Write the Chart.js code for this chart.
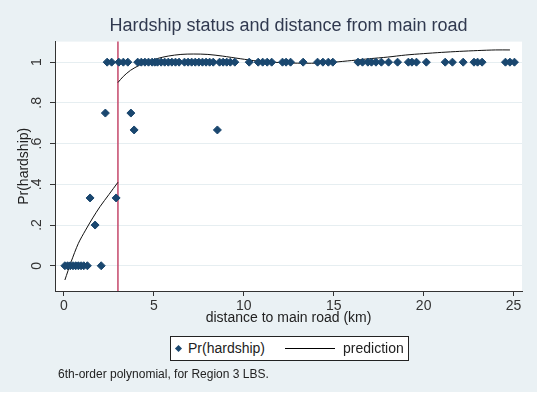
<!DOCTYPE html>
<html>
<head>
<meta charset="utf-8">
<script src="https://cdn.jsdelivr.net/npm/chart.js@4"></script>
<style>
  body { margin: 0; background: #fff; font-family: Arial, "Liberation Sans", sans-serif; }
  #wrap { position: relative; width: 540px; height: 395px; }
  #legend { position: absolute; left: 170px; top: 336px; width: 239px; height: 25px; box-sizing: border-box;
            border: 1px solid #222; background: #fff; font-size: 14px; color: #222; }
  #legend .dia { position: absolute; left: 5px; top: 8.5px; width: 5px; height: 5px; background: #1a476f; transform: rotate(45deg); }
  #legend .txt { position: absolute; top: 0; line-height: 23px; white-space: nowrap; }
  #legend .ln { position: absolute; left: 114px; top: 11px; width: 50px; border-top: 1px solid #000; }
  #note { position: absolute; left: 58px; top: 367px; font-size: 12px; line-height: 14px; color: #222; white-space: nowrap; }
</style>
</head>
<body>
<div id="wrap">
  <canvas id="Hardship" width="540" height="395"></canvas>
  <div id="legend">
    <span class="dia"></span><span class="txt" style="left:17px">Pr(hardship)</span>
    <span class="ln"></span><span class="txt" style="left:172px">prediction</span>
  </div>
  <div id="note">6th-order polynomial, for Region 3 LBS.</div>
</div>
<script>
// observed points (distance in km, share in hardship)
const distanceKm = [0.05, 0.2, 0.35, 0.5, 0.65, 0.8, 0.95, 1.1, 1.3, 2.07,
    1.45, 2.9, 1.73, 2.3, 3.72, 3.9, 8.53,
    2.4, 2.65, 3.05, 3.3, 3.55,
    4.1, 4.3, 4.5, 4.7, 4.9, 5.05, 5.2, 5.4, 5.6, 5.8, 6.0, 6.2, 6.4,
    6.7, 6.9, 7.1, 7.3, 7.5, 7.7, 7.9, 8.1, 8.3,
    8.65, 8.85, 9.05, 9.25, 9.5,
    10.3, 10.8, 11.05, 11.3, 11.55,
    12.15, 12.35, 12.6, 13.3,
    14.1, 14.4, 14.7, 14.95,
    16.35, 16.6, 16.9, 17.1, 17.35, 17.65,
    18.05, 18.55, 19.15, 19.35, 19.6, 20.15,
    21.2, 21.6, 22.2, 22.8, 23.0, 23.25,
    24.55, 24.8, 25.05];
const prHardship = [0, 0, 0, 0, 0, 0, 0, 0, 0, 0,
    0.333, 0.333, 0.2, 0.75, 0.75, 0.667, 0.667,
    1, 1, 1, 1, 1,
    1, 1, 1, 1, 1, 1, 1, 1, 1, 1, 1, 1, 1,
    1, 1, 1, 1, 1, 1, 1, 1, 1,
    1, 1, 1, 1, 1,
    1, 1, 1, 1, 1,
    1, 1, 1, 1,
    1, 1, 1, 1,
    1, 1, 1, 1, 1, 1,
    1, 1, 1, 1, 1, 1,
    1, 1, 1, 1, 1, 1,
    1, 1, 1];

// fitted curve, below and above the cutoff
const predLeftX = [0.05, 0.4, 0.8, 1.2, 1.6, 2.0, 2.5, 3.0];
const predLeftY = [-0.07, 0.02, 0.11, 0.175, 0.235, 0.29, 0.35, 0.41];
const predRightX = [3.0, 3.3, 3.7, 4.2, 4.6, 5.2, 5.8, 6.5, 7.2, 8.0, 8.8, 9.8, 10.8, 12, 13, 14, 15, 16, 17, 18, 19, 20, 21, 22, 23, 24, 24.8];
const predRightY = [0.90, 0.93, 0.96, 0.985, 1.0, 1.018, 1.03, 1.038, 1.04, 1.038, 1.03, 1.017, 1.005, 0.998, 0.995, 0.995, 1.0, 1.008, 1.017, 1.025, 1.035, 1.042, 1.048, 1.053, 1.057, 1.06, 1.06];

const cutoffKm = 3;
const xTicks = [0, 5, 10, 15, 20, 25];
const yTicks = [0, 0.2, 0.4, 0.6, 0.8, 1];

function pairs(xs, ys) {
    return xs.map((x, i) => ({ x: x, y: ys[i] }));
}

function yLabel(v) {
    let r = Math.round(v * 10) / 10;
    if (r === 0 || r === 1) return String(r);
    return String(r).replace(/^0/, '');
}

const AXIS_FONT = { family: 'Arial, "Liberation Sans", sans-serif', size: 14 };

// background, white plot region, red cutoff line and rotated y labels
const stataLook = {
    id: 'stataLook',
    beforeDraw(chart) {
        let ctx = chart.ctx, a = chart.chartArea;
        ctx.save();
        ctx.fillStyle = '#eaf1f4';
        ctx.fillRect(0, 0, 537, 392);
        ctx.fillStyle = '#fff';
        ctx.fillRect(a.left, a.top, a.right - a.left, a.bottom - a.top);
        ctx.restore();
    },
    beforeDatasetsDraw(chart) {
        let ctx = chart.ctx, a = chart.chartArea;
        let px = chart.scales.x.getPixelForValue(cutoffKm);
        ctx.save();
        ctx.strokeStyle = '#c4476a';
        ctx.lineWidth = 1.5;
        ctx.beginPath();
        ctx.moveTo(px, a.top);
        ctx.lineTo(px, a.bottom);
        ctx.stroke();
        ctx.restore();
    },
    afterDraw(chart) {
        let ctx = chart.ctx, ys = chart.scales.y;
        ctx.save();
        ctx.fillStyle = '#333';
        ctx.font = '14px Arial, "Liberation Sans", sans-serif';
        ctx.textAlign = 'center';
        ctx.textBaseline = 'middle';
        yTicks.forEach(v => {
            ctx.save();
            ctx.translate(37, ys.getPixelForValue(v));
            ctx.rotate(-Math.PI / 2);
            ctx.fillText(yLabel(v), 0, 0);
            ctx.restore();
        });
        ctx.restore();
    }
};

let ctx = document.getElementById('Hardship').getContext('2d');
let Hardship = new Chart(ctx, {
    type: 'scatter',
    data: {
        datasets: [{
            label: 'Pr(hardship)',
            data: pairs(distanceKm, prHardship),
            pointStyle: 'rectRot',
            pointRadius: 4,
            backgroundColor: '#1a476f',
            borderColor: '#1a476f',
            borderWidth: 1
        }, {
            label: 'prediction',
            data: pairs(predLeftX, predLeftY),
            showLine: true,
            pointRadius: 0,
            borderColor: '#111',
            borderWidth: 1,
            tension: 0.3
        }, {
            label: 'prediction',
            data: pairs(predRightX, predRightY),
            showLine: true,
            pointRadius: 0,
            borderColor: '#111',
            borderWidth: 1,
            tension: 0.3
        }]
    },
    options: {
        responsive: false,
        animation: false,
        layout: { padding: { left: 0, right: 18, top: 0, bottom: 68 } },
        plugins: {
            legend: { display: false },
            tooltip: { enabled: false },
            title: {
                display: true,
                fullSize: false,
                text: 'Hardship status and distance from main road',
                color: '#30394f',
                font: { family: AXIS_FONT.family, size: 18, weight: 'normal' },
                padding: { top: 15, bottom: 5 }
            }
        },
        scales: {
            x: {
                type: 'linear',
                min: -0.5,
                max: 25.47,
                afterFit(scale) { scale.height = 36; },
                afterBuildTicks(scale) { scale.ticks = xTicks.map(v => ({ value: v })); },
                ticks: {
                    includeBounds: false,
                    color: '#333',
                    font: AXIS_FONT,
                    padding: 2,
                    maxRotation: 0,
                    callback: v => String(v)
                },
                grid: { drawOnChartArea: false, tickLength: 5, tickColor: '#333' },
                border: { color: '#333', width: 1 },
                title: {
                    display: true,
                    text: 'distance to main road (km)',
                    color: '#222',
                    font: AXIS_FONT,
                    padding: { top: 0, bottom: 0 }
                }
            },
            y: {
                type: 'linear',
                min: -0.124,
                max: 1.101,
                afterFit(scale) { scale.width = 55; },
                afterBuildTicks(scale) { scale.ticks = yTicks.map(v => ({ value: v })); },
                ticks: { display: false, includeBounds: false },
                grid: { color: '#e6eef1', lineWidth: 1, tickLength: 5, tickColor: '#333' },
                border: { color: '#333', width: 1 },
                title: {
                    display: true,
                    text: 'Pr(hardship)',
                    color: '#222',
                    font: AXIS_FONT,
                    padding: { top: 16, bottom: 0 }
                }
            }
        }
    },
    plugins: [stataLook]
});
</script>
</body>
</html>
